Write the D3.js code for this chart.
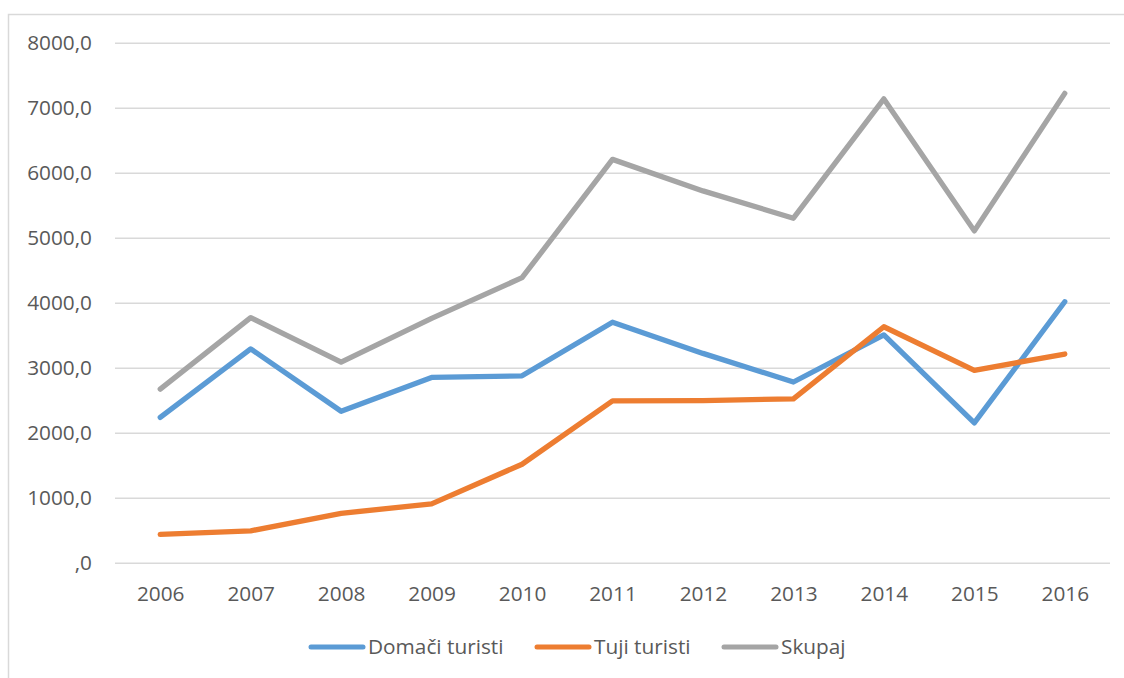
<!DOCTYPE html>
<html>
<head>
<meta charset="utf-8">
<script src="https://cdn.jsdelivr.net/npm/d3@7"></script>
<style>
    body { margin: 0; background: #fff; }
    .canvas text { font-family: "Open Sans", "Noto Sans", sans-serif; fill: #595959; }
</style>
</head>
<body>
<svg id="chart"></svg>
<script>
// data
const years = ['2006', '2007', '2008', '2009', '2010', '2011', '2012', '2013', '2014', '2015', '2016'];
const domaci = [2235, 3290, 2330, 2850, 2875, 3700, 3220, 2780, 3505, 2150, 4015];
const tuji = [435, 490, 760, 905, 1515, 2490, 2495, 2520, 3630, 2960, 3210];
const skupaj = [2670, 3770, 3085, 3760, 4385, 6205, 5720, 5300, 7135, 5105, 7220];
const yTicks = [0, 1000, 2000, 3000, 4000, 5000, 6000, 7000, 8000];
const seriesNames = ['Domači turisti', 'Tuji turisti', 'Skupaj'];

const width = 1124;
const height = 678;
const colors = ['#5b9bd5', '#ed7d31', '#a5a5a5'];
const plot = { left: 115, right: 1110, top: 42.7, bottom: 562.7 };
const fontSize = '20.8px';

const canvas = d3.select('#chart')
    .classed('canvas', true)
    .attr('width', width)
    .attr('height', height);

// chart frame, only top and left edges fall inside the picture
canvas.append('rect')
    .attr('x', 8.5)
    .attr('y', 14.5)
    .attr('width', width + 20)
    .attr('height', height + 20)
    .attr('fill', 'none')
    .attr('stroke', '#d9d9d9')
    .attr('stroke-width', 1.5);

const x = d3.scalePoint()
    .domain(years)
    .range([plot.left, plot.right])
    .padding(0.5);

const y = d3.scaleLinear()
    .domain([0, 8000])
    .range([plot.bottom, plot.top]);

const fmt = d => d === 0 ? ',0' : d3.format('.1f')(d).replace('.', ',');

// y axis with grid lines
const yAxis = canvas.append('g')
    .attr('transform', `translate(${plot.left},0)`)
    .call(d3.axisLeft(y)
        .tickValues(yTicks)
        .tickFormat(fmt)
        .tickSize(-(plot.right - plot.left))
        .tickPadding(23));
yAxis.select('.domain').remove();
yAxis.selectAll('line')
    .attr('stroke', '#d9d9d9')
    .attr('stroke-width', 1.5);
yAxis.selectAll('text')
    .style('font-size', fontSize)
    .attr('dy', '0.35em');

// x axis labels
const xAxis = canvas.append('g')
    .attr('transform', `translate(0,${plot.bottom})`)
    .call(d3.axisBottom(x).tickSize(0).tickPadding(24));
xAxis.select('.domain').remove();
xAxis.selectAll('text').style('font-size', fontSize);

// lines
const line = d3.line()
    .x((d, i) => x(years[i]))
    .y(d => y(d));

const allSeries = [domaci, tuji, skupaj];

canvas.append('g')
    .selectAll('path')
    .data(allSeries)
    .join('path')
        .attr('d', d => line(d))
        .attr('fill', 'none')
        .attr('stroke', (d, i) => colors[i])
        .attr('stroke-width', 5.3)
        .attr('stroke-linejoin', 'round')
        .attr('stroke-linecap', 'round');

// legend
const legendX = [311, 537, 724];
const legend = canvas.append('g')
    .attr('transform', 'translate(0,647)')
    .selectAll('g')
    .data(seriesNames)
    .join('g')
        .attr('transform', (d, i) => `translate(${legendX[i]},0)`);

legend.append('line')
    .attr('x1', 0)
    .attr('x2', 52)
    .attr('stroke', (d, i) => colors[i])
    .attr('stroke-width', 5)
    .attr('stroke-linecap', 'round');

legend.append('text')
    .attr('x', 57)
    .attr('dy', '0.35em')
    .style('font-size', fontSize)
    .text(d => d);
</script>
</body>
</html>
